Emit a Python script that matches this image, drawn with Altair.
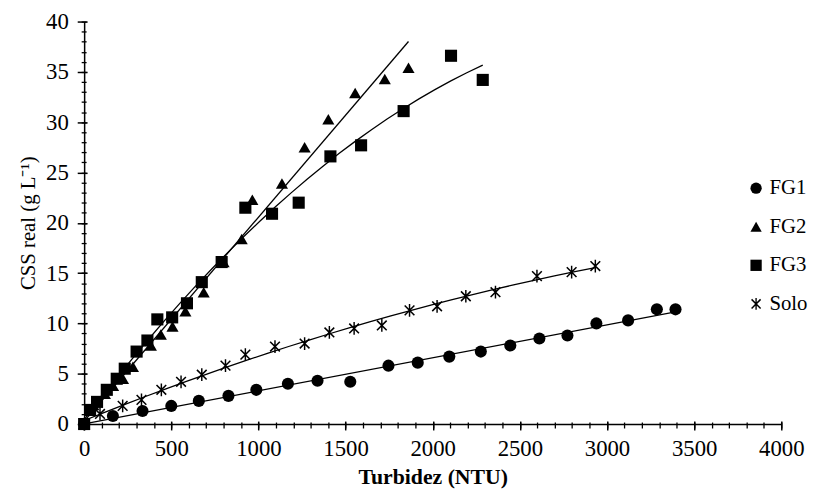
import altair as alt
import pandas as pd

series_names = ["FG1", "FG2", "FG3", "Solo"]

fg1_x = [0, 165, 335, 500, 658, 828, 988, 1169, 1339, 1527, 1746, 1914, 2095, 2276, 2445, 2612, 2773, 2939, 3121, 3286, 3393]
fg1_y = [0, 0.8, 1.3, 1.8, 2.3, 2.8, 3.4, 4.0, 4.3, 4.2, 5.8, 6.1, 6.7, 7.2, 7.8, 8.5, 8.8, 10.0, 10.3, 11.4, 11.4]

fg2_x = [0, 53, 119, 166, 223, 280, 383, 440, 507, 581, 686, 800, 904, 965, 1135, 1265, 1401, 1555, 1725, 1861]
fg2_y = [0, 1.9, 3.0, 3.8, 4.5, 5.7, 7.8, 8.9, 9.7, 11.2, 13.1, 16.1, 18.4, 22.3, 23.9, 27.5, 30.3, 32.9, 34.3, 35.4]

fg3_x = [0, 34, 74, 130, 187, 233, 301, 363, 420, 505, 590, 675, 789, 925, 1078, 1231, 1413, 1589, 1833, 2105, 2287]
fg3_y = [0, 1.4, 2.2, 3.4, 4.5, 5.5, 7.2, 8.3, 10.4, 10.6, 12.0, 14.1, 16.1, 21.5, 20.9, 22.0, 26.6, 27.7, 31.1, 36.6, 34.2]

solo_x = [0, 91, 221, 329, 443, 556, 675, 811, 925, 1095, 1265, 1407, 1549, 1708, 1867, 2025, 2190, 2360, 2598, 2797, 2933]
solo_y = [0, 1.0, 1.8, 2.4, 3.4, 4.2, 4.9, 5.8, 6.9, 7.7, 8.0, 9.1, 9.5, 9.8, 11.3, 11.7, 12.7, 13.1, 14.7, 15.1, 15.7]

x_major = list(range(0, 4001, 500))
x_minor = list(range(0, 4001, 100))
y_major = list(range(0, 41, 5))
y_minor = list(range(0, 41, 1))

rows = []
for name, xs_, ys_ in [("FG1", fg1_x, fg1_y), ("FG2", fg2_x, fg2_y),
                       ("FG3", fg3_x, fg3_y), ("Solo", solo_x, solo_y)]:
    for a, b in zip(xs_, ys_):
        rows.append({"series": name, "x": a, "y": b})
df = pd.DataFrame(rows)

FONT = "Liberation Serif"
# six-armed star built from filled bars (so it shows in the legend too)
asterisk = (
    "M-0.12,-1.05L0.12,-1.05L0.12,1.05L-0.12,1.05Z"
    "M-0.71,-0.89L0.89,0.71L0.71,0.89L-0.89,-0.71Z"
    "M0.89,-0.71L-0.71,0.89L-0.89,0.71L0.71,-0.89Z"
)

# main axes: domain line, labels and titles (their own ticks hidden)
x_axis = alt.Axis(
    values=x_major, format="d", orient="bottom", tickSize=7, tickColor="transparent",
    labelFont=FONT, labelFontSize=23, labelColor="black", labelPadding=7,
    labelOverlap=False, labelFlush=False,
    title="Turbidez (NTU)", titleFont=FONT, titleFontSize=22, titleFontWeight="bold",
    titleColor="black", titlePadding=6,
    grid=False, domainColor="black", domainWidth=1.5,
)
y_axis = alt.Axis(
    values=y_major, format="d", orient="left", tickSize=7, tickColor="transparent",
    labelFont=FONT, labelFontSize=23, labelColor="black", labelPadding=9,
    labelOverlap=False, labelFlush=False,
    title="CSS real (g L⁻¹)", titleFont=FONT, titleFontSize=21, titleFontWeight="normal",
    titleColor="black", titlePadding=7,
    grid=False, domainColor="black", domainWidth=1.5,
)
# tick-only axes, shifted inward so the ticks cross the axis line
x_ticks_major = alt.Axis(
    values=x_major, orient="bottom", offset=-3, tickSize=9, labels=False, title=None,
    domain=False, grid=False, tickColor="black", tickWidth=1.5,
)
y_ticks_major = alt.Axis(
    values=y_major, orient="left", offset=-3, tickSize=10, labels=False, title=None,
    domain=False, grid=False, tickColor="black", tickWidth=1.5,
)
x_ticks_minor = alt.Axis(
    values=x_minor, orient="bottom", offset=-2, tickSize=6, labels=False, title=None,
    domain=False, grid=False, tickColor="black", tickWidth=1.3,
)
y_ticks_minor = alt.Axis(
    values=y_minor, orient="left", offset=-2, tickSize=5, labels=False, title=None,
    domain=False, grid=False, tickColor="black", tickWidth=1.3,
)

xs = alt.Scale(domain=[0, 4000], nice=False)
ys = alt.Scale(domain=[0, 40], nice=False)

points = alt.Chart(df).mark_point(
    filled=True, size=150, color="black", opacity=1
).encode(
    x=alt.X("x:Q", scale=xs, axis=x_axis),
    y=alt.Y("y:Q", scale=ys, axis=y_axis),
    shape=alt.Shape(
        "series:N",
        scale=alt.Scale(domain=series_names, range=["circle", "triangle-up", "square", asterisk]),
        legend=alt.Legend(
            title=None, orient="none", legendX=669, legendY=158,
            labelFont=FONT, labelFontSize=21, labelColor="black",
            symbolSize=130, symbolFillColor="black",
            rowPadding=17, labelOffset=3,
        ),
    ),
)

lin = alt.Chart(df).transform_filter(
    "datum.series === 'FG1' || datum.series === 'FG2'"
).transform_regression(
    "x", "y", groupby=["series"]
).mark_line(color="black", strokeWidth=1.3).encode(
    x=alt.X("x:Q", scale=xs, axis=x_ticks_major),
    y=alt.Y("y:Q", scale=ys, axis=y_ticks_major),
    detail="series:N",
)

poly = alt.Chart(df).transform_filter(
    "datum.series === 'FG3' || datum.series === 'Solo'"
).transform_regression(
    "x", "y", method="poly", order=2, groupby=["series"]
).mark_line(color="black", strokeWidth=1.3).encode(
    x=alt.X("x:Q", scale=xs, axis=x_ticks_minor),
    y=alt.Y("y:Q", scale=ys, axis=y_ticks_minor),
    detail="series:N",
)

chart = alt.layer(lin, poly, points).resolve_axis(
    x="independent", y="independent"
).properties(
    width=705, height=407,
    padding={"left": 10, "top": 0, "right": 0, "bottom": 0},
).configure_view(stroke=None)

chart.save("out.html", embed_options={"renderer": "svg", "actions": False})
